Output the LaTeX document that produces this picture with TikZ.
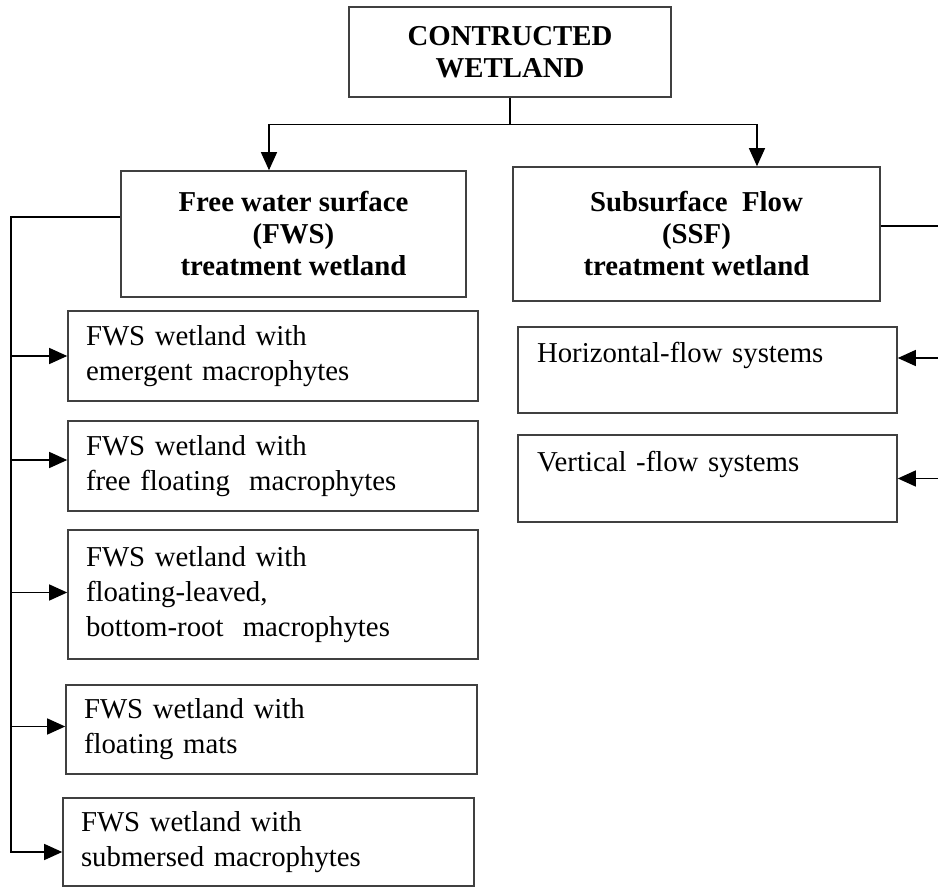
\documentclass[tikz,border=0pt]{standalone}
\usepackage{fontspec}
\setmainfont{Liberation Serif}
\usetikzlibrary{arrows.meta}

\begin{document}
\begin{tikzpicture}[x=1pt,y=-1pt,
    head/.style={draw=black!75,line width=1.6pt,inner sep=0pt,align=center,font=\bfseries\fontsize{28.8}{32}\selectfont},
    item/.style={draw=black!75,line width=1.6pt,inner xsep=18pt,inner ysep=0pt,align=left,text width=#1,font=\fontsize{28.8}{35}\selectfont},
    link/.style={line width=1.3pt},
    arr/.style={line width=1.3pt,-{Triangle[length=18pt,width=16pt]}}]
\useasboundingbox (0,0) rectangle (938,888);
% heads
\node[head,minimum width=322pt,minimum height=90pt] (cw) at (510,52) {CONTRUCTED\\WETLAND};
\node[head,minimum width=345pt,minimum height=126pt] (fws) at (293.5,234) {Free water surface\\(FWS)\\treatment wetland};
\node[head,minimum width=367pt,minimum height=134pt] (ssf) at (696.5,234) {Subsurface\ \ Flow\\(SSF)\\treatment wetland};
% FWS types
\node[item=374pt,minimum height=90pt] (b1) at (273,356) {FWS wetland with\\emergent macrophytes};
\node[item=374pt,minimum height=90pt] (b2) at (273,466) {FWS wetland with\\free floating\ \ macrophytes};
\node[item=374pt,minimum height=129pt] (b3) at (273,594.5) {FWS wetland with\\floating-leaved,\\bottom-root\ \ macrophytes};
\node[item=375pt,minimum height=89pt] (b4) at (271.5,729.5) {FWS wetland with\\floating mats};
\node[item=375pt,minimum height=88pt] (b5) at (268.5,842) {FWS wetland with\\submersed macrophytes};
% SSF types
\node[item=341pt,inner xsep=19pt,minimum height=86pt] (hfs) at (707.5,370) {Horizontal-flow systems\\\mbox{}};
\node[item=341pt,inner xsep=19pt,minimum height=87pt] (vfs) at (707.5,478.5) {Vertical -flow systems\\\mbox{}};
% connectors
\draw[link] (cw.south) -- ++(0,27) coordinate (split);
\draw[arr] (split) -| ([xshift=-24.5pt]fws.north);
\draw[arr] (split) -| ([xshift=60.5pt]ssf.north);
\coordinate (tl) at (11,217);
\draw[arr] (tl -| fws.west) -- (tl) |- ([yshift=-10pt]b5.west);
\foreach \b/\s in {b1/0,b2/6,b3/2,b4/3}{
  \coordinate (e) at ([yshift=\s pt]\b.west);
  \draw[arr] (tl |- e) -- (e);
}
\coordinate (tr) at (952,226);
\coordinate (ha) at ([yshift=12pt]hfs.east);
\draw[arr] (tr -| ssf.east) -- (tr) |- (vfs.east);
\draw[arr] (tr |- ha) -- (ha);
\end{tikzpicture}
\end{document}
